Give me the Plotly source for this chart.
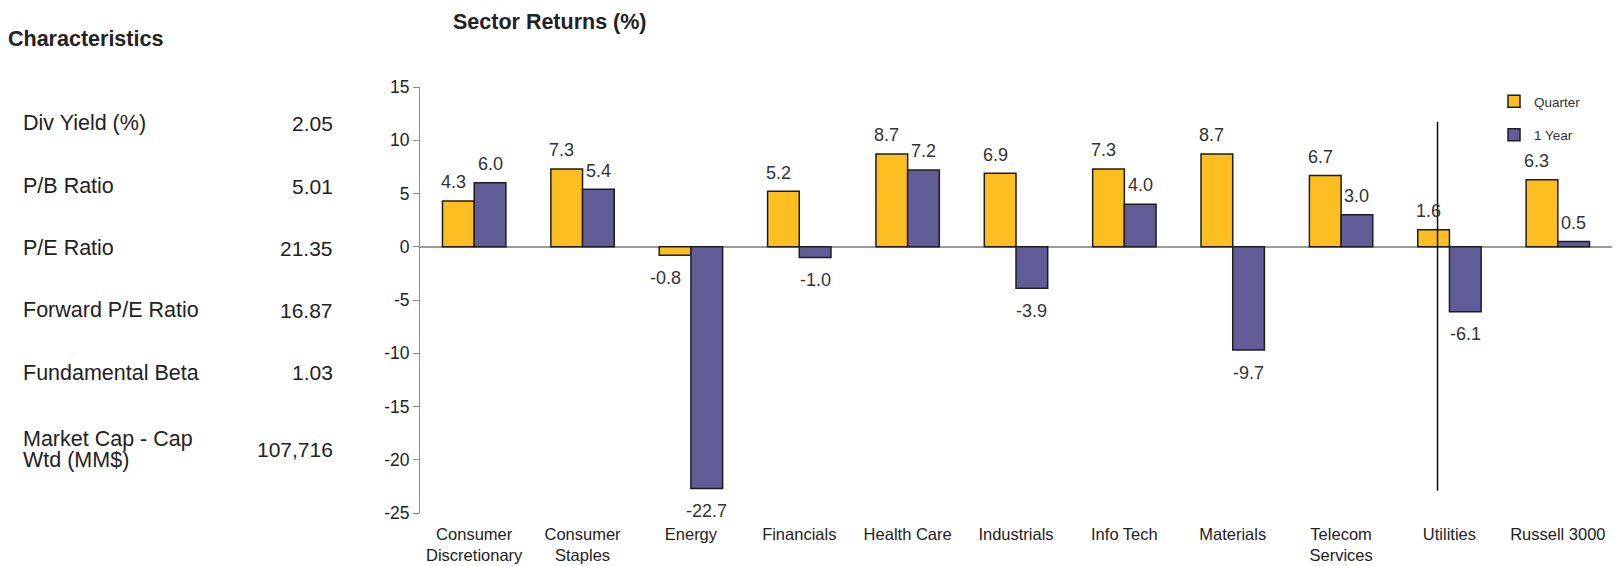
import plotly.graph_objects as go

# ---------------- data ----------------
sectors = ["Consumer<br>Discretionary", "Consumer<br>Staples", "Energy", "Financials",
           "Health Care", "Industrials", "Info Tech", "Materials", "Telecom<br>Services",
           "Utilities", "Russell 3000"]
quarter = [4.3, 7.3, -0.8, 5.2, 8.7, 6.9, 7.3, 8.7, 6.7, 1.6, 6.3]
one_year = [6.0, 5.4, -22.7, -1.0, 7.2, -3.9, 4.0, -9.7, 3.0, -6.1, 0.5]
series_names = ["Quarter", "1 Year"]

char_labels = ["Div Yield (%)", "P/B Ratio", "P/E Ratio", "Forward P/E Ratio",
               "Fundamental Beta", ["Market Cap - Cap", "Wtd (MM$)"]]
char_values = ["2.05", "5.01", "21.35", "16.87", "1.03", "107,716"]

y_ticks = [15, 10, 5, 0, -5, -10, -15, -20, -25]
y_tick_text = ["15", "10", "5", "0", "-5", "-10", "-15", "-20", "-25"]

# stray vertical divider line seen in the source (category-index x, y values)
divider_x = 8.89
divider_y = [-22.9, 11.74]

# ---------------- layout geometry ----------------
W, H = 1618, 566
L, R, T, B = 420, 6, 87, 53
plot_w = W - L - R
plot_h = H - T - B


def px_x(px):
    return (px - L) / plot_w


def px_y(py):
    return (H - B - py) / plot_h


FONT = "Liberation Sans, Arial, sans-serif"
TXT = "#222222"
colors = ["#FDBE22", "#615B97"]
bargap = 0.415

fig = go.Figure()
for j, (name, vals) in enumerate(zip(series_names, [quarter, one_year])):
    fig.add_trace(go.Bar(
        x=sectors, y=vals, name=name,
        marker=dict(color=colors[j], line=dict(color="#1e1e1e", width=1.5)),
        legendgroup=name,
    ))

# value labels
annotations = []
bw = (1 - bargap) / 2
for j, vals in enumerate([quarter, one_year]):
    off = (-0.5 + j) * bw
    for i, v in enumerate(vals):
        annotations.append(dict(
            x=i + off, y=v, xref="x", yref="y", text=f"{v:.1f}",
            showarrow=False, xanchor="center", yanchor="middle",
            yshift=18.7 if v >= 0 else -22.5,
            xshift=(-5 if v >= 0 else -10) if j == 0 else 0,
            font=dict(family=FONT, size=18, color="#333333"),
        ))

# characteristics table
annotations.append(dict(
    x=px_x(6), y=px_y(39), xref="paper", yref="paper", text="<b>Characteristics</b>",
    showarrow=False, xanchor="left", yanchor="middle",
    font=dict(family=FONT, size=21.5, color=TXT)))
row_y = [123, 186, 248, 310, 373, 449]
for lab, val, yy in zip(char_labels, char_values, row_y):
    if isinstance(lab, list):
        for k, part in enumerate(lab):
            annotations.append(dict(
                x=px_x(21), y=px_y(439 + 21 * k), xref="paper", yref="paper", text=part,
                showarrow=False, xanchor="left", yanchor="middle",
                font=dict(family=FONT, size=21.5, color=TXT)))
    else:
        annotations.append(dict(
            x=px_x(21), y=px_y(yy), xref="paper", yref="paper", text=lab,
            showarrow=False, xanchor="left", yanchor="middle",
            font=dict(family=FONT, size=21.5, color=TXT)))
    annotations.append(dict(
        x=px_x(335), y=px_y(yy), xref="paper", yref="paper", text=val,
        showarrow=False, xanchor="right", yanchor="middle",
        font=dict(family=FONT, size=21, color=TXT)))

fig.update_layout(
    width=W, height=H, autosize=False,
    margin=dict(l=L, r=R, t=T, b=B, pad=0),
    paper_bgcolor="white", plot_bgcolor="white",
    barmode="group", bargap=bargap, bargroupgap=0,
    font=dict(family=FONT, color=TXT),
    title=dict(text="<b>Sector Returns (%)</b>", xref="paper", x=px_x(453), xanchor="left",
               yref="container", y=1 - 21 / H, yanchor="middle",
               font=dict(family=FONT, size=21.5, color=TXT)),
    showlegend=True,
    legend=dict(x=px_x(1494), y=px_y(86), xanchor="left", yanchor="top",
                bgcolor="rgba(0,0,0,0)", font=dict(family=FONT, size=13.5, color="#333333"),
                tracegroupgap=13, traceorder="grouped"),
    xaxis=dict(type="category", range=[-0.5, len(sectors) - 0.5], showgrid=False,
               showline=False, zeroline=False, ticks="outside", ticklen=6,
               tickcolor="rgba(0,0,0,0)", tickfont=dict(family=FONT, size=16.5, color=TXT),
               automargin=False, fixedrange=True),
    yaxis=dict(range=[-25, 15], tickvals=y_ticks, ticktext=y_tick_text, showgrid=False,
               showline=True, linecolor="#8a8a8a", linewidth=1, ticks="outside", ticklen=6,
               tickcolor="#8a8a8a", zeroline=True, zerolinecolor="#9a9a9a",
               zerolinewidth=1.5, tickfont=dict(family=FONT, size=17.5, color=TXT),
               automargin=False, fixedrange=True),
    annotations=annotations,
    shapes=[dict(type="line", xref="x", yref="y", x0=divider_x, x1=divider_x,
                 y0=divider_y[0], y1=divider_y[1], line=dict(color="#111111", width=1.5))],
)

fig.write_html("out.html", config={"displayModeBar": False},
               post_script="document.body.style.margin='0px';")
